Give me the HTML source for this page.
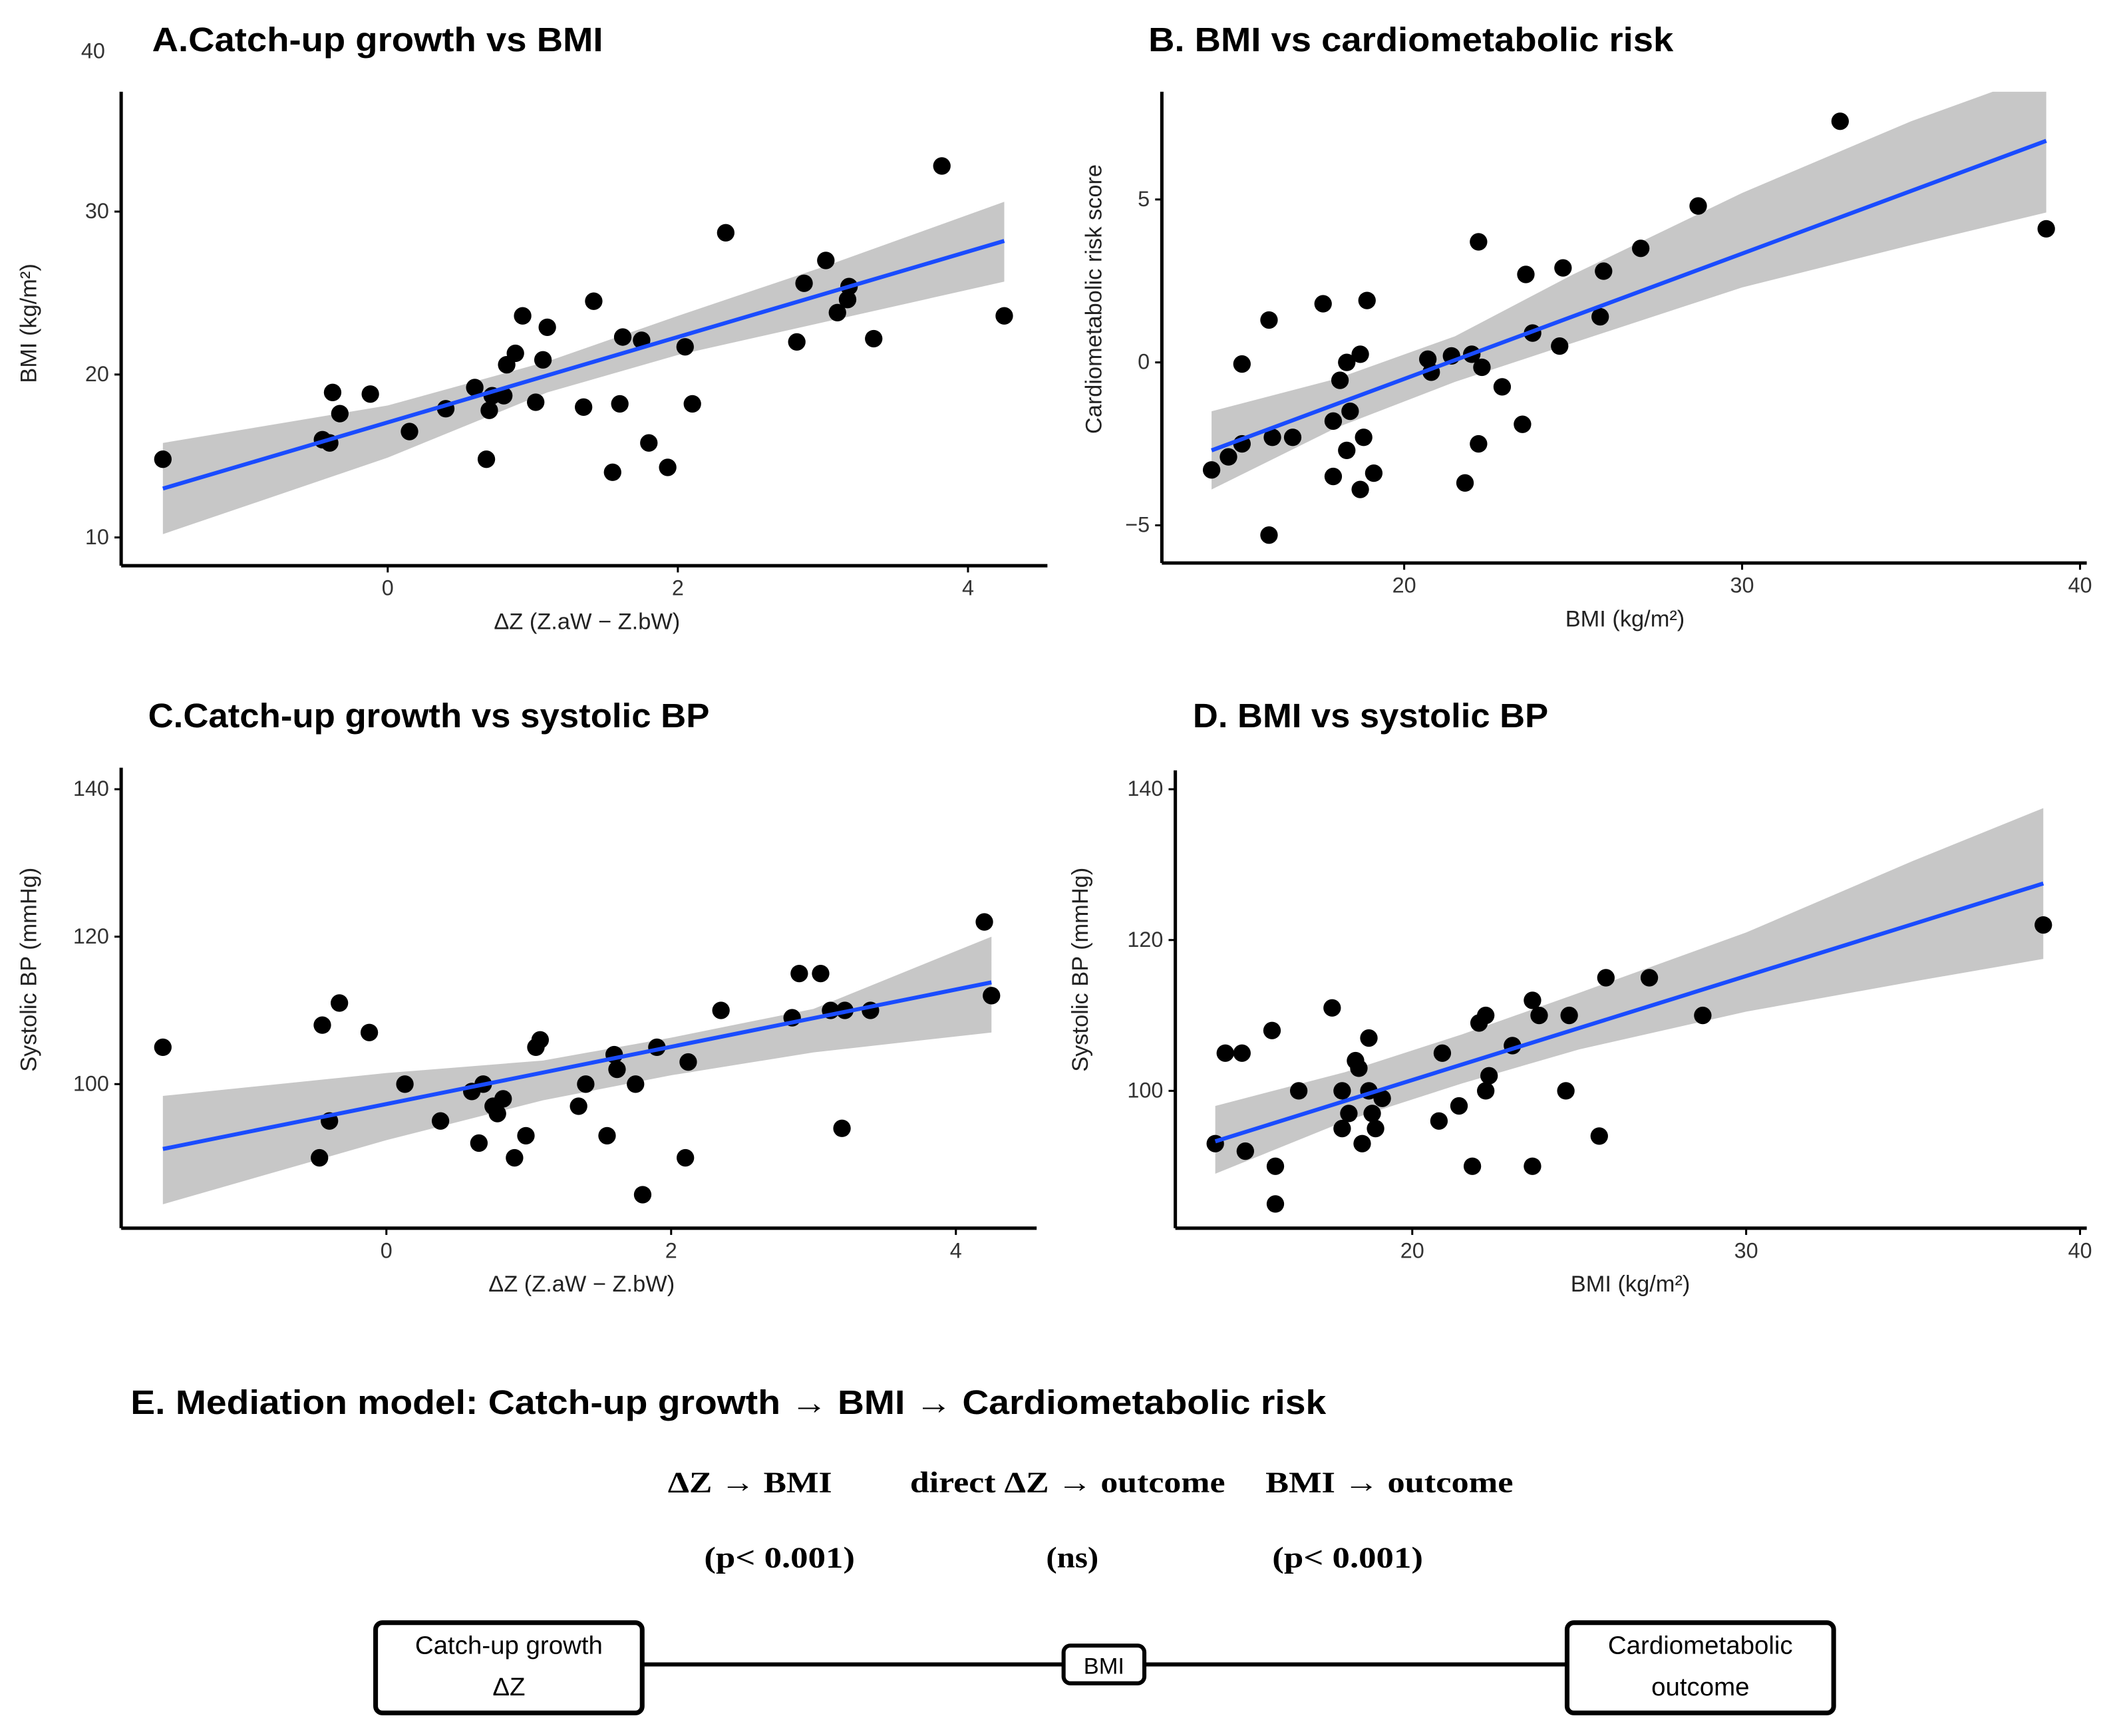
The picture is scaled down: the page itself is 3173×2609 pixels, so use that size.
<!DOCTYPE html>
<html><head><meta charset="utf-8">
<style>
html,body{margin:0;padding:0;background:#fff;}
svg{display:block;}
text{font-family:"Liberation Sans",sans-serif;}
.ttl{font-weight:bold;font-size:25px;fill:#000;}
.tick{font-size:16px;fill:#333;}
.lab{font-size:17px;fill:#222;}
.ser{font-family:"Liberation Serif",serif;font-size:22px;fill:#000;font-weight:bold;}
</style></head>
<body>
<svg id="fig" width="3173" height="2609" viewBox="0 0 1568 1289" xmlns="http://www.w3.org/2000/svg">
<g id="charts"></g>
<g>
<text class="ttl" x="97" y="1050" textLength="888" lengthAdjust="spacingAndGlyphs">E. Mediation model: Catch-up growth → BMI → Cardiometabolic risk</text>
<text class="ser" x="496" y="1108" textLength="122" lengthAdjust="spacingAndGlyphs">ΔZ → BMI</text>
<text class="ser" x="676" y="1108" textLength="234" lengthAdjust="spacingAndGlyphs">direct ΔZ → outcome</text>
<text class="ser" x="940" y="1108" textLength="184" lengthAdjust="spacingAndGlyphs">BMI → outcome</text>
<text class="ser" x="523" y="1164" textLength="112" lengthAdjust="spacingAndGlyphs">(p&lt; 0.001)</text>
<text class="ser" x="777" y="1164" textLength="39" lengthAdjust="spacingAndGlyphs">(ns)</text>
<text class="ser" x="945" y="1164" textLength="112" lengthAdjust="spacingAndGlyphs">(p&lt; 0.001)</text>
<line x1="477" y1="1236" x2="790" y2="1236" stroke="#000" stroke-width="3"/>
<line x1="850" y1="1236" x2="1164" y2="1236" stroke="#000" stroke-width="3"/>
<rect x="279" y="1205" width="198" height="67" rx="5" fill="#fff" stroke="#000" stroke-width="3.5"/>
<text x="378" y="1228" text-anchor="middle" font-size="19">Catch-up growth</text>
<text x="378" y="1259" text-anchor="middle" font-size="19">ΔZ</text>
<rect x="790" y="1222" width="60" height="28" rx="5" fill="#fff" stroke="#000" stroke-width="3"/>
<text x="820" y="1243" text-anchor="middle" font-size="17">BMI</text>
<rect x="1164" y="1205" width="198" height="67" rx="5" fill="#fff" stroke="#000" stroke-width="3.5"/>
<text x="1263" y="1228" text-anchor="middle" font-size="19">Cardiometabolic</text>
<text x="1263" y="1259" text-anchor="middle" font-size="19">outcome</text>
</g>
</svg>
<script>
// Panel A data
const aX=[-1.55,-0.45,-0.4,-0.38,-0.33,-0.12,0.15,0.4,0.6,0.68,0.7,0.72,0.8,0.82,0.88,0.93,1.02,1.07,1.1,1.35,1.42,1.55,1.6,1.62,1.75,1.8,1.93,2.05,2.1,2.33,2.82,2.87,3.02,3.1,3.17,3.18,3.35,3.82,4.25];
const aY=[14.8,16,15.8,18.9,17.6,18.8,16.5,17.9,19.2,14.8,17.8,18.7,18.7,20.6,21.3,23.6,18.3,20.9,22.9,18,24.5,14,18.2,22.3,22.1,15.8,14.3,21.7,18.2,28.7,22,25.6,27,23.8,24.6,25.4,22.2,32.8,23.6];
const aFitX=[-1.55,4.25]; const aFitY=[13,28.2];
const aBandX=[-1.55,0,1.1,2,3,4.25]; const aBandLo=[10.2,14.9,18.9,21.2,23.2,25.7]; const aBandHi=[15.8,18.1,20.8,23.6,26.6,30.6];
// Panel B data
const bX=[14.3,14.8,15.2,15.2,16.0,16.0,16.1,16.7,17.6,17.9,17.9,18.1,18.3,18.3,18.4,18.7,18.7,18.8,18.9,19.1,20.7,20.8,21.4,21.8,22.0,22.2,22.2,22.3,22.9,23.5,23.6,23.8,24.6,24.7,25.8,25.9,27.0,28.7,32.9,39.0];
const bY=[-3.3,-2.9,-2.5,-0.05,1.3,-5.3,-2.3,-2.3,1.8,-1.8,-3.5,-0.55,0,-2.7,-1.5,-3.9,0.25,-2.3,1.9,-3.4,0.1,-0.3,0.2,-3.7,0.25,3.7,-2.5,-0.15,-0.75,-1.9,2.7,0.9,0.5,2.9,1.4,2.8,3.5,4.8,7.4,4.1];
const bFitX=[14.3,39]; const bFitY=[-2.7,6.8];
const bBandX=[14.3,18,21.5,25,30,35,39]; const bBandLo=[-3.9,-2.0,-0.6,0.6,2.3,3.6,4.6]; const bBandHi=[-1.5,-0.5,0.8,2.7,5.2,7.4,8.9];
// Panel C data
const cX=[-1.57,-0.47,-0.45,-0.4,-0.33,-0.12,0.13,0.38,0.6,0.65,0.68,0.75,0.78,0.82,0.9,0.98,1.05,1.08,1.35,1.4,1.55,1.6,1.62,1.75,1.8,1.9,2.1,2.12,2.35,2.85,2.9,3.05,3.12,3.2,3.22,3.4,4.2,4.25];
const cY=[105,90,108,95,111,107,100,95,99,92,100,97,96,98,90,93,105,106,97,100,93,104,102,100,85,105,90,103,110,109,115,115,110,94,110,110,122,112];
const cFitX=[-1.57,4.25]; const cFitY=[91.2,113.8];
const cBandX=[-1.57,0,1.1,2,3,4.25]; const cBandLo=[83.7,92.4,97.8,101.2,104.3,107]; const cBandHi=[98.4,101.5,103.2,106.3,110.2,120];
// Panel D data
const dX=[14.1,14.4,14.9,15.0,15.8,15.9,15.9,16.6,17.6,17.9,17.9,18.1,18.3,18.4,18.5,18.7,18.7,18.8,18.9,19.1,20.8,20.9,21.4,21.8,22.0,22.2,22.2,22.3,23.0,23.6,23.6,23.8,24.6,24.7,25.6,25.8,27.1,28.7,38.9];
const dY=[93,105,105,92,108,85,90,100,111,100,95,97,104,103,93,107,100,97,95,99,96,105,98,90,109,110,100,102,106,90,112,110,100,110,94,115,115,110,122];
const dFitX=[14.1,38.9]; const dFitY=[93.3,127.5];
const dBandX=[14.1,18,21.5,25,30,35,38.9]; const dBandLo=[89,96,101,105.5,110.5,114.5,117.5]; const dBandHi=[98,102.5,107.5,113,121,130.5,137.5];

const NS='http://www.w3.org/2000/svg';
const root=document.getElementById('charts');
function mk(tag,attrs,parent){const e=document.createElementNS(NS,tag);for(const k in attrs)e.setAttribute(k,attrs[k]);parent.appendChild(e);return e;}
function panel(cfg){
  const g=mk('g',{},root);
  
  
  const sx=v=>cfg.px0+(v-cfg.x0)*cfg.kx;
  const sy=v=>cfg.py0-(v-cfg.y0)*cfg.ky;
  const cp='clip-'+cfg.name;
  const defs=mk('defs',{},g);
  const cl=mk('clipPath',{id:cp},defs);
  mk('rect',{x:cfg.ax,y:cfg.top,width:cfg.right-cfg.ax,height:cfg.ay-cfg.top},cl);
  let d='M'+cfg.bx.map((x,i)=>sx(x)+','+sy(cfg.bhi[i])).join(' L');
  for(let i=cfg.bx.length-1;i>=0;i--)d+=' L'+sx(cfg.bx[i])+','+sy(cfg.blo[i]);
  d+='Z';
  const band=mk('path',{d:d,fill:'#bdbdbd','fill-opacity':'0.85','clip-path':'url(#'+cp+')'},g);
  
  
  cfg.xs.forEach((x,i)=>{
    const c=mk('circle',{cx:sx(x),cy:sy(cfg.ys[i]),r:6.5,fill:'#000'},g);
    
    
  });
  const ln=mk('line',{x1:sx(cfg.fx[0]),y1:sy(cfg.fy[0]),x2:sx(cfg.fx[1]),y2:sy(cfg.fy[1]),stroke:'#1a4cff','stroke-width':3},g);
  
  
  const ya=mk('line',{x1:cfg.ax,y1:cfg.top,x2:cfg.ax,y2:cfg.ay,stroke:'#000','stroke-width':2.5},g);
  
  
  const xa=mk('line',{x1:cfg.ax,y1:cfg.ay,x2:cfg.right,y2:cfg.ay,stroke:'#000','stroke-width':2.5},g);
  
  
  cfg.xt.forEach(v=>{
    mk('line',{x1:sx(v),y1:cfg.ay,x2:sx(v),y2:cfg.ay+5,stroke:'#000','stroke-width':1.5},g);
    const t=mk('text',{x:sx(v),y:cfg.ay+22,'text-anchor':'middle',class:'tick'},g);
    t.textContent=String(v).replace('-','−');
    
    
  });
  cfg.yt.forEach(v=>{
    mk('line',{x1:cfg.ax-5,y1:sy(v),x2:cfg.ax,y2:sy(v),stroke:'#000','stroke-width':1.5},g);
    const t=mk('text',{x:cfg.ax-9,y:sy(v)+5,'text-anchor':'end',class:'tick'},g);
    t.textContent=String(v).replace('-','−');
    
    
  });
  const tt=mk('text',{x:cfg.tx,y:cfg.ty,class:'ttl',textLength:cfg.tw,lengthAdjust:'spacingAndGlyphs'},g);
  tt.textContent=cfg.title;
  
  
  const xl=mk('text',{x:cfg.xlx,y:cfg.ay+47,'text-anchor':'middle',class:'lab'},g);
  xl.textContent=cfg.xlab;
  
  
  const yl=mk('text',{x:0,y:0,'text-anchor':'middle',class:'lab',transform:'translate('+cfg.ylx+','+cfg.yly+') rotate(-90)'},g);
  yl.textContent=cfg.ylab;
  
  
  return g;
}
const gA=panel({name:'panel-a',xs:aX,ys:aY,fx:aFitX,fy:aFitY,bx:aBandX,blo:aBandLo,bhi:aBandHi,
  px0:288,x0:0,kx:107.75,py0:399,y0:10,ky:12.1,ax:90,ay:420,top:68,right:778,
  xt:[0,2,4],yt:[10,20,30],title:'A.Catch-up growth vs BMI',tx:113,ty:38,tw:335,
  xlab:'ΔZ (Z.aW − Z.bW)',xlx:436,ylab:'BMI (kg/m²)',ylx:27,yly:240});
const t40=mk('text',{x:78,y:43,'text-anchor':'end',class:'tick'},gA);
t40.textContent='40';


panel({name:'panel-b',xs:bX,ys:bY,fx:bFitX,fy:bFitY,bx:bBandX,blo:bBandLo,bhi:bBandHi,
  px0:1043,x0:20,kx:25.1,py0:269,y0:0,ky:24.2,ax:863,ay:418,top:68,right:1550,
  xt:[20,30,40],yt:[-5,0,5],title:'B. BMI vs cardiometabolic risk',tx:853,ty:38,tw:390,
  xlab:'BMI (kg/m²)',xlx:1207,ylab:'Cardiometabolic risk score',ylx:818,yly:222});
panel({name:'panel-c',xs:cX,ys:cY,fx:cFitX,fy:cFitY,bx:cBandX,blo:cBandLo,bhi:cBandHi,
  px0:287,x0:0,kx:105.75,py0:805,y0:100,ky:5.475,ax:90,ay:912,top:570,right:770,
  xt:[0,2,4],yt:[100,120,140],title:'C.Catch-up growth vs systolic BP',tx:110,ty:540,tw:417,
  xlab:'ΔZ (Z.aW − Z.bW)',xlx:432,ylab:'Systolic BP (mmHg)',ylx:27,yly:720});
panel({name:'panel-d',xs:dX,ys:dY,fx:dFitX,fy:dFitY,bx:dBandX,blo:dBandLo,bhi:dBandHi,
  px0:1049,x0:20,kx:24.8,py0:810,y0:100,ky:5.6,ax:873,ay:912,top:572,right:1550,
  xt:[20,30,40],yt:[100,120,140],title:'D. BMI vs systolic BP',tx:886,ty:540,tw:264,
  xlab:'BMI (kg/m²)',xlx:1211,ylab:'Systolic BP (mmHg)',ylx:808,yly:720});
</script>
</body></html>
